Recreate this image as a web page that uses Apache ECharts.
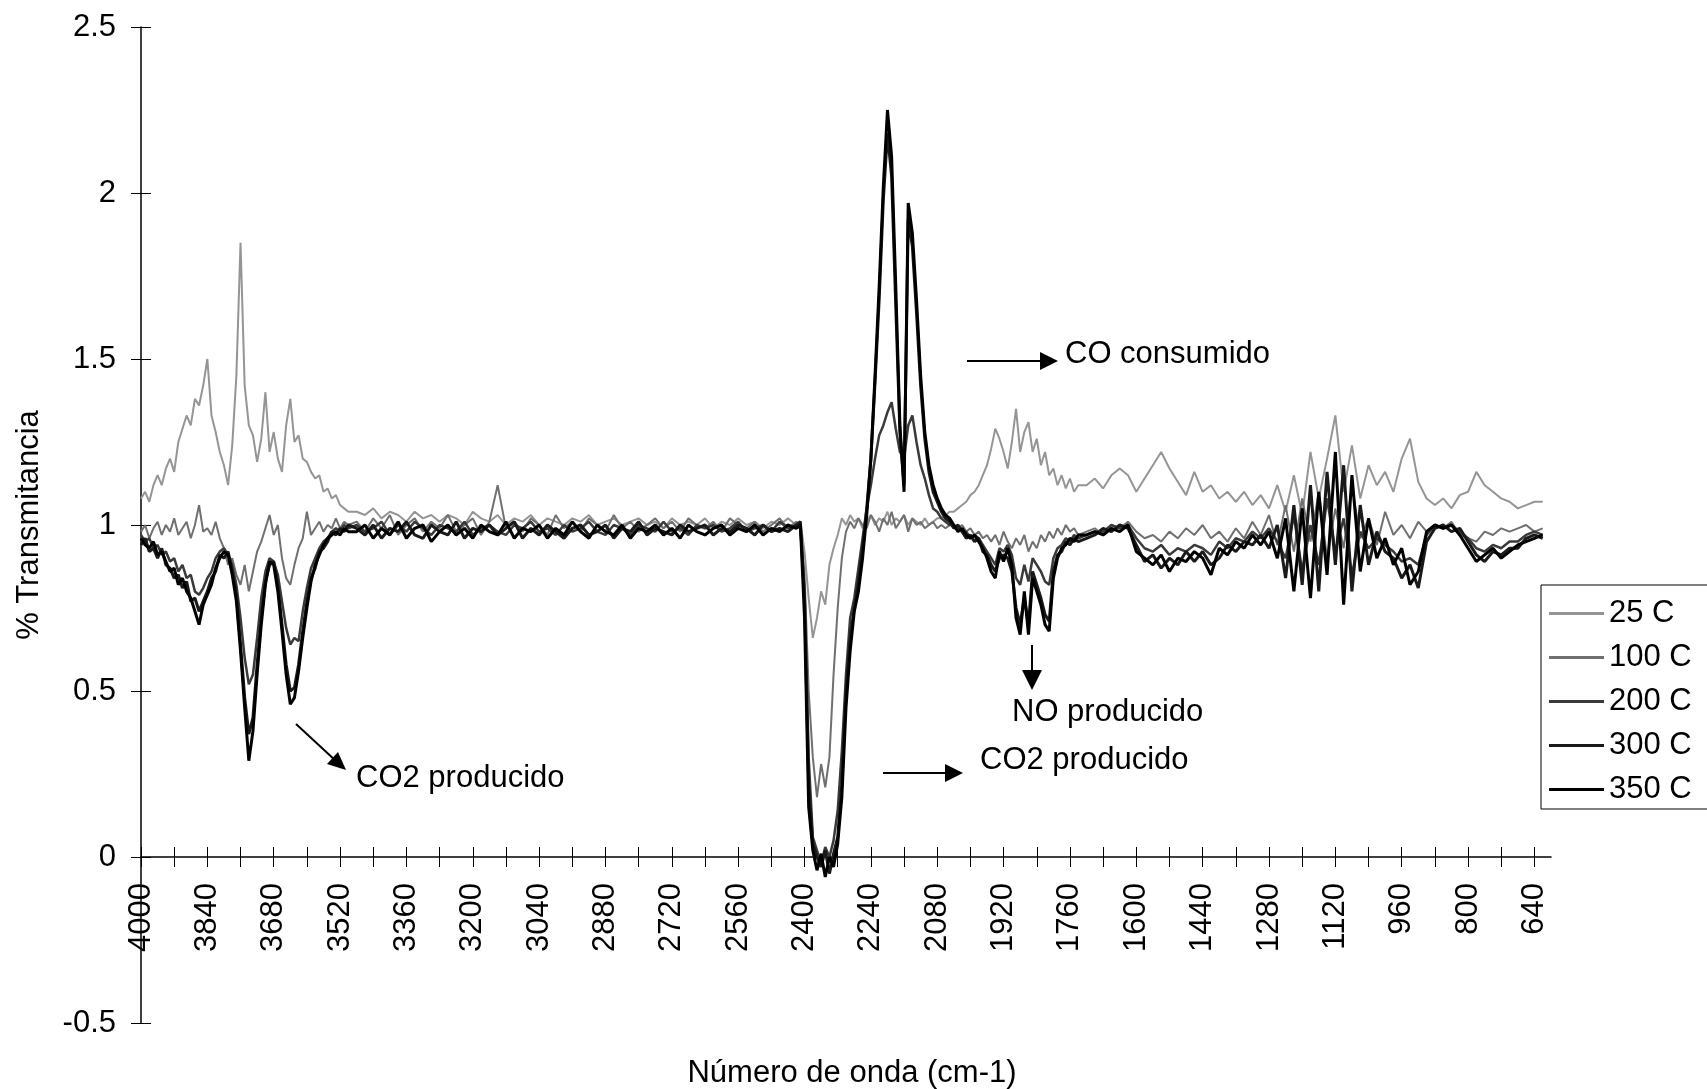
<!DOCTYPE html>
<html><head><meta charset="utf-8">
<script src="https://cdn.jsdelivr.net/npm/echarts@6/dist/echarts.min.js"></script>
<style>html,body{margin:0;padding:0;background:#fff}#c{width:1707px;height:1089px}</style>
</head><body><div id="c"></div>
<script>
// Wavenumber grid (cm-1)
const wavenumbers = [
 4000,3990,3980,3970,3960,3950,3940,3930,3920,3910,3900,3890,3880,3870,3860,3850,3840,3830,3820,3810,3800,3790,3780,3770,3760,3750,3740,3730,3720,3710,3700,3690,3680,3670,3660,3650,3640,3630,3620,3610,3600,3590,3580,3570,3560,3550,3540,3530,3520,3510,3500,
 3480,3460,3440,3420,3400,3380,3360,3340,3320,3300,3280,3260,3240,3220,3200,3180,3160,3140,3120,3100,3080,3060,3040,3020,3000,2980,2960,2940,2920,2900,2880,2860,2840,2820,2800,2780,2760,2740,2720,2700,2680,2660,2640,2620,2600,2580,2560,2540,2520,2500,2480,2460,2440,2420,
 2410,2400,2390,2380,2370,2360,2350,2340,2330,2320,2310,2300,2290,2280,2270,2260,2250,2240,2230,2220,2210,2200,2190,2180,2170,2160,2150,2140,2130,2120,2110,2100,2090,2080,2070,2060,2050,
 2040,2030,2020,2010,2000,1990,1980,1970,1960,1950,1940,1930,1920,1910,1900,1890,1880,1870,1860,1850,1840,1830,1820,1810,1800,1790,1780,1770,1760,1750,1740,
 1720,1700,1680,1660,1640,1620,1600,1580,1560,1540,1520,1500,1480,1460,1440,1420,1400,1380,1360,1340,1320,1300,1280,1260,1240,1220,1200,1180,1160,1140,1120,1100,1080,1060,1040,1020,1000,980,960,940,920,900,880,860,840,820,800,780,760,740,720,700,680,660,640,620
];
const t25 = [
 1.08,1.10,1.07,1.12,1.15,1.12,1.17,1.20,1.16,1.25, 1.29,1.33,1.30,1.38,1.36,1.42,1.50,1.33,1.28,1.22, 1.18,1.12,1.24,1.45,1.85,1.42,1.30,1.27,1.19,1.26, 1.40,1.22,1.28,1.20,1.16,1.30,1.38,1.25,1.27,1.20, 1.19,1.16,1.14,1.15,1.10,1.11,1.08,1.09,1.06,1.05, 1.04,
 1.04,1.03,1.05,1.02,1.04,1.03,1.01,1.04,1.02,1.03, 1.01,1.03,1.02,1.00,1.04,1.02,1.01,1.03,1.00,1.02, 1.01,1.03,1.00,1.02,1.01,1.00,1.02,1.01,1.03,1.00, 1.01,1.02,1.00,1.01,1.02,1.00,1.01,0.99,1.02,1.00, 1.01,1.00,1.02,0.99,1.01,1.00,1.02,1.00,1.01,0.99, 1.01,1.00,1.02,1.00,
 1.01,0.92,0.78,0.66,0.72,0.80,0.76,0.88,0.93,0.97, 1.02,1.00,1.03,1.01,1.02,0.99,1.01,1.03,1.00,1.02, 1.01,1.04,1.00,1.02,1.01,1.03,1.00,1.02,1.01,1.00, 1.02,1.00,1.01,1.02,1.02,1.03,1.04,
 1.04,1.05,1.06,1.07,1.09,1.10,1.12,1.15,1.18,1.23, 1.29,1.26,1.22,1.17,1.25,1.35,1.22,1.28,1.31,1.22, 1.26,1.18,1.22,1.15,1.17,1.12,1.15,1.11,1.14,1.10, 1.12,
 1.12,1.14,1.11,1.15,1.17,1.15,1.10,1.14,1.18,1.22, 1.17,1.13,1.09,1.16,1.10,1.12,1.08,1.10,1.07,1.10, 1.06,1.09,1.05,1.12,1.04,1.15,1.03,1.22,1.08,1.20, 1.33,1.10,1.24,1.08,1.18,1.12,1.16,1.10,1.20,1.26, 1.13,1.08,1.06,1.08,1.05,1.09,1.10,1.16,1.12,1.10, 1.08,1.07,1.05,1.06,1.07,1.07
];
const t100 = [
 0.98,1.00,0.96,0.99,1.01,0.97,1.00,0.98,1.02,0.97, 0.99,1.01,0.96,1.00,1.06,0.98,0.99,0.97,1.01,0.96, 0.93,0.88,0.90,0.85,0.82,0.88,0.80,0.86,0.92,0.95, 0.99,1.03,0.97,1.00,0.90,0.84,0.82,0.88,0.93,0.96, 1.04,0.97,0.99,1.01,0.98,1.00,0.99,1.02,0.99,1.01, 1.00,
 1.01,0.98,1.02,0.99,1.03,0.97,1.00,1.02,0.98,1.01, 0.99,1.03,0.98,1.00,1.02,0.97,1.01,1.12,0.99,1.01, 0.98,1.02,1.00,0.97,1.03,0.99,1.01,0.98,1.02,1.00, 0.98,1.03,0.99,1.01,0.98,1.00,1.02,0.99,1.01,0.98, 1.02,1.00,0.99,1.01,0.98,1.02,1.00,0.99,1.01,0.98, 1.00,1.02,0.99,1.01,
 1.00,0.85,0.50,0.30,0.18,0.28,0.21,0.30,0.55,0.75, 0.90,0.98,1.01,0.99,1.02,1.00,0.99,1.03,1.01,0.98, 1.02,1.00,1.04,0.99,1.01,1.03,0.98,1.02,1.00,1.01, 0.99,1.00,1.01,0.99,1.00,0.99,1.00,
 1.00,0.99,1.00,0.98,0.99,0.97,0.98,0.96,0.97,0.95, 0.97,0.94,0.98,0.95,0.93,0.96,0.94,0.97,0.92,0.95, 0.93,0.97,0.95,0.98,0.96,0.99,0.97,1.00,0.98,0.99, 0.97,
 0.98,0.99,0.97,1.00,0.99,1.01,0.98,0.96,0.97,0.95, 0.98,0.96,0.99,0.97,1.00,0.96,0.98,0.95,0.99,0.96, 1.01,0.97,1.03,0.94,1.06,0.92,1.08,0.95,1.10,0.90, 1.05,0.93,1.12,0.96,1.02,0.94,1.04,0.97,1.00,0.96, 1.01,0.98,1.00,0.99,1.01,0.97,0.96,0.95,0.98,0.97, 0.99,0.98,0.99,1.00,0.98,0.99
];
const t200 = [
 0.97,0.95,0.96,0.93,0.94,0.91,0.92,0.89,0.90,0.86, 0.88,0.84,0.85,0.80,0.79,0.81,0.84,0.86,0.90,0.92, 0.93,0.91,0.88,0.82,0.72,0.60,0.52,0.55,0.66,0.78, 0.86,0.90,0.89,0.85,0.77,0.69,0.64,0.66,0.65,0.74, 0.81,0.87,0.90,0.93,0.95,0.96,0.98,0.99,0.98,1.00, 0.99,
 1.00,0.98,0.99,1.01,0.97,1.00,0.98,1.01,0.99,0.97, 1.00,0.99,0.98,1.01,0.97,0.99,1.00,0.98,0.97,1.00, 0.99,1.01,0.98,0.99,0.97,1.00,0.98,0.99,1.01,0.98, 0.97,1.00,0.99,0.97,1.00,0.99,0.98,1.01,0.98,0.99, 0.97,1.00,0.99,1.00,0.98,0.99,1.01,0.98,0.99,1.00, 0.98,1.01,0.99,1.00,
 0.99,0.80,0.30,0.06,0.02,-0.02,0.03,0.00,0.05,0.14, 0.32,0.55,0.72,0.78,0.87,0.96,1.05,1.12,1.20,1.27, 1.30,1.34,1.37,1.29,1.22,1.20,1.30,1.33,1.25,1.18, 1.14,1.09,1.05,1.04,1.02,1.01,1.00,
 1.00,0.99,0.98,0.98,0.96,0.97,0.96,0.94,0.92,0.90, 0.88,0.93,0.92,0.94,0.91,0.84,0.82,0.88,0.83,0.90, 0.88,0.86,0.83,0.82,0.90,0.93,0.94,0.96,0.95,0.97, 0.96,
 0.97,0.98,0.98,1.00,0.99,1.00,0.96,0.93,0.92,0.94, 0.91,0.93,0.92,0.94,0.93,0.91,0.95,0.93,0.96,0.95, 0.98,0.96,0.99,0.95,0.90,1.03,0.86,1.00,0.88,1.08, 0.92,1.02,0.85,0.98,0.93,0.96,0.94,0.92,0.89,0.90, 0.88,0.97,1.00,0.99,1.00,0.98,0.96,0.93,0.92,0.94, 0.93,0.95,0.95,0.97,0.98,0.97
];
const t300 = [
 0.94,0.96,0.92,0.93,0.90,0.93,0.88,0.87,0.84,0.85, 0.81,0.83,0.77,0.78,0.74,0.77,0.80,0.84,0.86,0.91, 0.90,0.92,0.86,0.79,0.64,0.48,0.37,0.42,0.58,0.72, 0.83,0.88,0.89,0.82,0.70,0.58,0.50,0.51,0.58,0.68, 0.77,0.84,0.87,0.92,0.93,0.95,0.98,0.97,0.99,0.98, 1.00,
 0.99,0.97,1.00,0.96,0.99,0.98,1.01,0.97,0.96,1.00, 0.98,0.97,1.01,0.96,0.99,0.98,1.00,0.97,0.99,1.01, 0.96,0.99,0.97,1.00,0.98,0.96,0.99,1.00,0.97,0.98, 1.00,0.96,0.99,0.98,1.01,0.97,0.99,0.98,0.97,1.00, 0.98,0.99,1.00,0.97,0.99,0.98,1.00,0.99,0.97,1.00, 0.98,0.99,0.98,1.00,
 1.01,0.78,0.22,0.04,0.00,-0.03,0.02,-0.05,0.01,0.06, 0.22,0.50,0.66,0.75,0.83,0.93,1.05,1.20,1.43,1.68, 1.98,2.18,2.05,1.66,1.28,1.12,1.92,1.84,1.64,1.42, 1.26,1.16,1.10,1.07,1.04,1.02,1.01,
 0.99,1.00,0.98,0.96,0.97,0.95,0.96,0.92,0.91,0.88, 0.86,0.90,0.91,0.90,0.86,0.75,0.70,0.78,0.70,0.86, 0.82,0.78,0.73,0.71,0.86,0.91,0.92,0.95,0.94,0.96, 0.95,
 0.96,0.97,0.99,0.98,1.00,0.99,0.94,0.89,0.91,0.87, 0.90,0.88,0.92,0.89,0.92,0.88,0.90,0.94,0.92,0.95, 0.94,0.97,0.93,1.00,0.84,1.06,0.82,1.12,0.80,1.16, 0.88,1.18,0.80,1.06,0.88,0.98,0.92,0.90,0.84,0.88, 0.81,0.95,0.99,1.00,0.98,0.99,0.95,0.91,0.89,0.92, 0.91,0.93,0.93,0.96,0.97,0.96
];
const t350 = [
 0.96,0.94,0.93,0.95,0.91,0.92,0.89,0.86,0.87,0.82, 0.84,0.80,0.78,0.74,0.70,0.76,0.79,0.82,0.87,0.90, 0.92,0.91,0.85,0.77,0.62,0.45,0.29,0.38,0.55,0.70, 0.82,0.89,0.88,0.80,0.68,0.55,0.46,0.48,0.56,0.66, 0.75,0.83,0.88,0.91,0.94,0.96,0.97,0.98,0.97,0.99, 0.98,
 0.98,1.00,0.96,0.99,0.97,1.01,0.96,0.99,1.00,0.95, 0.98,1.00,0.97,0.99,0.96,1.00,0.98,0.97,1.01,0.96, 0.99,0.98,1.00,0.96,0.99,0.97,1.01,0.98,0.96,1.00, 0.98,0.97,1.00,0.96,0.99,0.98,1.00,0.97,0.99,0.96, 1.00,0.98,0.97,0.99,1.00,0.97,0.99,0.98,1.00,0.97, 0.99,0.98,1.00,0.99,
 1.00,0.72,0.15,0.02,-0.04,0.01,-0.06,0.00,-0.03,0.04, 0.18,0.45,0.62,0.74,0.80,0.90,1.03,1.20,1.45,1.72, 2.02,2.25,2.11,1.72,1.30,1.10,1.97,1.88,1.68,1.45, 1.28,1.18,1.12,1.08,1.05,1.03,1.02,
 1.00,0.98,0.99,0.97,0.96,0.97,0.95,0.93,0.90,0.86, 0.84,0.92,0.89,0.93,0.88,0.72,0.67,0.80,0.67,0.84, 0.80,0.76,0.70,0.68,0.84,0.90,0.93,0.94,0.96,0.95, 0.97,
 0.97,0.98,0.97,0.99,0.98,1.00,0.92,0.90,0.88,0.91, 0.86,0.90,0.89,0.92,0.90,0.85,0.93,0.91,0.95,0.93, 0.97,0.94,0.98,0.90,1.02,0.80,1.05,0.78,1.10,0.85, 1.22,0.76,1.15,0.86,1.02,0.90,0.96,0.88,0.93,0.82, 0.86,0.98,1.00,0.99,1.00,0.97,0.93,0.89,0.91,0.93, 0.90,0.92,0.94,0.95,0.96,0.97
];
const seriesNames = ['25 C','100 C','200 C','300 C','350 C'];
const seriesValues = [t25, t100, t200, t300, t350];
const xTickValues = [4000,3920,3840,3760,3680,3600,3520,3440,3360,3280,3200,3120,3040,2960,2880,2800,2720,2640,2560,2480,2400,2320,2240,2160,2080,2000,1920,1840,1760,1680,1600,1520,1440,1360,1280,1200,1120,1040,960,880,800,720,640];
const xLabelValues = [4000,3840,3680,3520,3360,3200,3040,2880,2720,2560,2400,2240,2080,1920,1760,1600,1440,1280,1120,960,800,640];
const annotations = ['CO consumido','NO producido','CO2 producido'];

const FONT = "'Liberation Sans', Arial, sans-serif";
const colors = ['#959595','#707070','#3a3a3a','#1a1a1a','#000000'];
const widths = [2,2,2.5,3,3];

// layout
const W = 1707, H = 1089;
const G = {left:141, right:156, top:27, bottom:66};
const Y_MIN = -0.5, Y_MAX = 2.5;
const zeroPx = G.top + (H - G.top - G.bottom) * (Y_MAX - 0) / (Y_MAX - Y_MIN); // pixel row of y = 0

const chart = echarts.init(document.getElementById('c'), null, {renderer:'canvas'});
const series = seriesNames.map((name,i)=>({
  name, type:'line', xAxisIndex:0, yAxisIndex:0,
  data: wavenumbers.map((w,j)=>[w, seriesValues[i][j]]),
  symbol:'none', showSymbol:false,
  lineStyle:{color:colors[i], width:widths[i]},
  itemStyle:{color:colors[i]},
  z: 2+i
}));

const txt = (s, x, y) => ({type:'text', x, y, style:{text:s, font:'31px '+FONT, fill:'#000', align:'left', verticalAlign:'middle', textAlign:'left', textVerticalAlign:'middle'}});
const ln = (x1,y1,x2,y2) => ({type:'line', shape:{x1,y1,x2,y2}, style:{stroke:'#000', lineWidth:2}});
const tri = (pts) => ({type:'polygon', shape:{points:pts}, style:{fill:'#000'}});

const xBase = {type:'value', min:600, max:4000, inverse:true, splitLine:{show:false}};
const tickStyle = {color:'#000', width:1};

chart.setOption({
  animation:false,
  backgroundColor:'#fff',
  textStyle:{fontFamily:FONT},
  grid:[
    {left:G.left, right:G.right, top:G.top, bottom:G.bottom, containLabel:false, outerBoundsMode:'none'},
    {left:G.left, right:G.right, top:G.top, bottom:H - zeroPx, containLabel:false, outerBoundsMode:'none'}
  ],
  legend:{
    data:seriesNames, orient:'vertical', left:1541, top:585,
    icon:'rect', itemWidth:55, itemHeight:3, itemGap:13,
    padding:[13,16,4,8],
    borderColor:'#000', borderWidth:1, backgroundColor:'#fff',
    textStyle:{fontSize:31, lineHeight:31, color:'#000', fontFamily:FONT}
  },
  xAxis:[
    Object.assign({}, xBase, {gridIndex:0, show:false}),
    Object.assign({}, xBase, {gridIndex:1, position:'bottom',
     axisLine:{show:true, onZero:false, lineStyle:{color:'#000', width:1.5}},
     axisTick:{show:true, customValues:xTickValues, length:10, lineStyle:tickStyle},
     axisLabel:{customValues:xLabelValues, rotate:90, margin:26, fontSize:31, color:'#000', fontFamily:FONT,
                formatter:(v)=>String(v)},
     name:'Número de onda (cm-1)', nameLocation:'middle', nameGap:201,
     nameTextStyle:{fontSize:31, color:'#000', fontFamily:FONT, padding:[0,0,0,12]}}),
    Object.assign({}, xBase, {gridIndex:1, position:'bottom',
     axisLine:{show:false, onZero:false},
     axisTick:{show:true, inside:true, customValues:xTickValues, length:10, lineStyle:tickStyle},
     axisLabel:{show:false}})
  ],
  yAxis:[
    {gridIndex:0, type:'value', position:'left', min:Y_MIN, max:Y_MAX, interval:0.5,
     axisLine:{show:true, onZero:false, lineStyle:{color:'#000', width:1.5}},
     axisTick:{show:true, length:10, lineStyle:tickStyle},
     axisLabel:{margin:25, fontSize:31, color:'#000', fontFamily:FONT},
     splitLine:{show:false},
     name:'% Transmitancia', nameLocation:'middle', nameGap:96,
     nameTextStyle:{fontSize:31, color:'#000', fontFamily:FONT}},
    {gridIndex:0, type:'value', position:'left', min:Y_MIN, max:Y_MAX, interval:0.5,
     axisLine:{show:false, onZero:false},
     axisTick:{show:true, inside:true, length:10, lineStyle:tickStyle},
     axisLabel:{show:false}, splitLine:{show:false}},
    {gridIndex:1, type:'value', min:0, max:1, show:false}
  ],
  series,
  graphic:[
    ln(967,361,1042,361), tri([[1040,352],[1058,361],[1040,370]]), txt(annotations[0],1065,354),
    ln(1032,645,1032,672), tri([[1022,670],[1042,670],[1032,690]]), txt(annotations[1],1012,712),
    ln(296,724,336,761), tri([[338,752],[327,764],[346,770]]), txt(annotations[2],356,778),
    ln(883,773,947,773), tri([[945,764],[963,773],[945,782]]), txt(annotations[2],980,760)
  ]
});
</script></body></html>
